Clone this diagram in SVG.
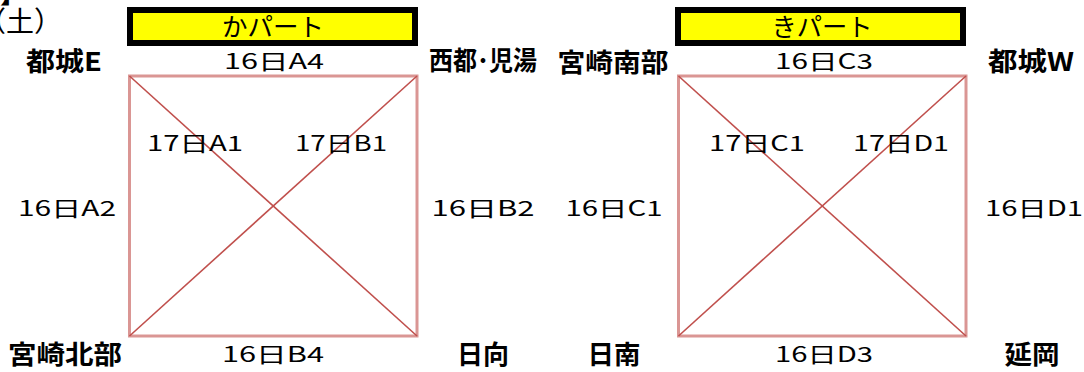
<svg xmlns="http://www.w3.org/2000/svg" width="1084" height="372" viewBox="0 0 1084 372">
<style>
.t{font-family:"Noto Sans CJK JP","Liberation Sans",sans-serif;fill:#000}
.r{font-size:21px;text-anchor:middle}
.b{font-size:26px;font-weight:bold;text-anchor:middle}
.h{font-size:25px;text-anchor:middle}
.box{fill:none;stroke:#DA9694;stroke-width:3}
.dg{stroke:#C0504D;stroke-width:1.6;fill:none}
.ybox{fill:#FFFF00;stroke:#000;stroke-width:6}
</style>
<rect width="1084" height="372" fill="#fff"/>
<g id="header">
<text class="t" x="0" y="3" font-size="26" font-weight="bold">】</text>
<text class="t" x="-22" y="32" font-size="28">（土）</text>
</g>
<g id="part-ka">
<rect class="ybox" x="130" y="10" width="285" height="33"/>
<text class="t h" x="273" y="36" textLength="102" lengthAdjust="spacingAndGlyphs">かパート</text>
</g>
<g id="part-ki">
<rect class="ybox" x="678" y="10" width="285" height="33"/>
<text class="t h" x="822" y="36" textLength="101" lengthAdjust="spacingAndGlyphs">きパート</text>
</g>
<g id="connectors">
<rect class="box" x="129.5" y="76" width="287.5" height="260"/>
<line class="dg" x1="129.5" y1="76" x2="417" y2="336"/>
<line class="dg" x1="129.5" y1="336" x2="417" y2="76"/>
<rect class="box" x="678.5" y="76" width="287.5" height="260"/>
<line class="dg" x1="678.5" y1="76" x2="966" y2="336"/>
<line class="dg" x1="678.5" y1="336" x2="966" y2="76"/>
</g>
<g id="node-miyakonojoE"><text class="t b" x="64" y="71" textLength="76" lengthAdjust="spacingAndGlyphs">都城E</text></g>
<g id="node-saito"><text class="t b" x="483" y="70" font-size="23" textLength="108" lengthAdjust="spacingAndGlyphs">西都･児湯</text></g>
<g id="node-miyazakinanbu"><text class="t b" x="613" y="72" textLength="111" lengthAdjust="spacingAndGlyphs">宮崎南部</text></g>
<g id="node-miyakonojoW"><text class="t b" x="1031" y="71" textLength="86" lengthAdjust="spacingAndGlyphs">都城W</text></g>
<g id="node-miyazakihokubu"><text class="t b" x="65" y="364" textLength="114" lengthAdjust="spacingAndGlyphs">宮崎北部</text></g>
<g id="node-hyuga"><text class="t b" x="483" y="364" textLength="52" lengthAdjust="spacingAndGlyphs">日向</text></g>
<g id="node-nichinan"><text class="t b" x="614" y="364" textLength="53" lengthAdjust="spacingAndGlyphs">日南</text></g>
<g id="node-nobeoka"><text class="t b" x="1032" y="364" textLength="55" lengthAdjust="spacingAndGlyphs">延岡</text></g>
<g id="labels">
<text class="t r" x="274" y="69" textLength="100" lengthAdjust="spacingAndGlyphs">16日A4</text>
<text class="t r" x="824" y="69" textLength="98" lengthAdjust="spacingAndGlyphs">16日C3</text>
<text class="t r" x="195" y="151" textLength="96" lengthAdjust="spacingAndGlyphs">17日A1</text>
<text class="t r" x="341" y="151" textLength="92" lengthAdjust="spacingAndGlyphs">17日B1</text>
<text class="t r" x="757" y="151" textLength="96" lengthAdjust="spacingAndGlyphs">17日C1</text>
<text class="t r" x="901" y="151" textLength="96" lengthAdjust="spacingAndGlyphs">17日D1</text>
<text class="t r" x="67" y="216" textLength="98" lengthAdjust="spacingAndGlyphs">16日A2</text>
<text class="t r" x="483" y="216" textLength="103" lengthAdjust="spacingAndGlyphs">16日B2</text>
<text class="t r" x="614" y="216" textLength="97" lengthAdjust="spacingAndGlyphs">16日C1</text>
<text class="t r" x="1034" y="216" textLength="98" lengthAdjust="spacingAndGlyphs">16日D1</text>
<text class="t r" x="273" y="362" textLength="102" lengthAdjust="spacingAndGlyphs">16日B4</text>
<text class="t r" x="824" y="362" textLength="98" lengthAdjust="spacingAndGlyphs">16日D3</text>
</g>
</svg>
